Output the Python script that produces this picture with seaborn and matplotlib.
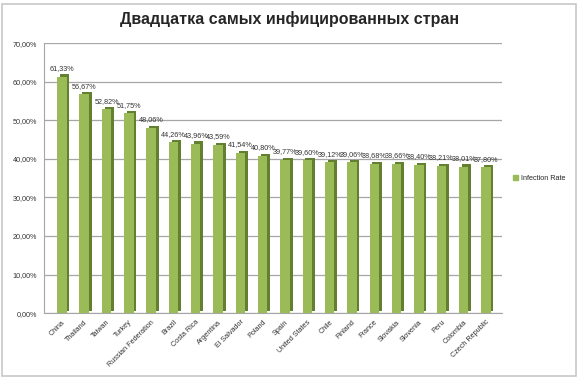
import matplotlib
matplotlib.use("Agg")
import matplotlib.pyplot as plt
import matplotlib.patheffects as pe
from matplotlib.patches import Rectangle, Patch
import seaborn as sns
import pandas as pd

countries = ["China", "Thailand", "Taiwan", "Turkey", "Russian Federation", "Brazil",
             "Costa Rica", "Argentina", "El Salvador", "Poland", "Spain", "United States",
             "Chile", "Finland", "France", "Slovakia", "Slovenia", "Peru", "Colombia",
             "Czech Republic"]
rates = [61.33, 56.67, 52.82, 51.75, 48.06, 44.26, 43.96, 43.59, 41.54, 40.80, 39.77,
         39.60, 39.12, 39.06, 38.68, 38.66, 38.40, 38.21, 38.01, 37.80]
yticks = [0, 10, 20, 30, 40, 50, 60, 70]
series_name = "Infection Rate"
title = "Двадцатка самых инфицированных стран"

df = pd.DataFrame({"Country": countries, "Rate": rates})

sns.set_style("white")
plt.rcParams['font.family'] = ['Liberation Sans', 'DejaVu Sans']

fig = plt.figure(figsize=(5.79, 3.81), dpi=100)
ax = fig.add_axes([0.076, 0.178, 0.791, 0.709])

green = "#9BBB59"
dark = "#62802F"

sns.barplot(data=df, x="Country", y="Rate", color=green, width=0.42, ax=ax,
            saturation=1, zorder=3, linewidth=0, edgecolor="none")
# dark side/top offset to fake the 3d look of the original
for p in ax.patches:
    p.set_path_effects([pe.SimplePatchShadow(offset=(2.0, 1.5), shadow_rgbFace=dark,
                                             alpha=1.0), pe.Normal()])

ax.set_ylim(0, 70)
ax.set_xlim(-0.8, len(countries) - 0.28)
ax.set_yticks(yticks)
ax.set_yticklabels([f"{v:.2f}%".replace(".", ",") for v in yticks], fontsize=5.2,
                   color="#333333")
ax.set_xticks(range(len(countries)))
ax.set_xticklabels(countries, rotation=45, ha="right", rotation_mode="anchor",
                   fontsize=5.2, color="#333333")
ax.set_xlabel("")
ax.set_ylabel("")
ax.yaxis.grid(True, color="#A6A6A6", linewidth=0.9)
ax.set_axisbelow(True)
for s in ["top", "right"]:
    ax.spines[s].set_visible(False)
ax.spines["left"].set_color("#A6A6A6")
ax.spines["bottom"].set_color("#A6A6A6")
ax.tick_params(axis="y", length=3, color="#A6A6A6", pad=2)
ax.tick_params(axis="x", length=3, color="#A6A6A6", pad=1)

for i, v in enumerate(rates):
    ax.text(i, v + 1.2, f"{v:.2f}%".replace(".", ","), ha="center", va="bottom",
            fontsize=5.2, color="#333333")

fig.text(0.5, 0.95, title, ha="center", va="center", fontsize=11.5, fontweight="bold")

ax.legend(handles=[Patch(color=green, label=series_name)], loc="center left",
          bbox_to_anchor=(1.01, 0.5), frameon=False, fontsize=5.2,
          handlelength=0.7, handleheight=0.7, handletextpad=0.4)

fig.patches.append(Rectangle((0.004, 0.012), 0.99, 0.978, transform=fig.transFigure,
                             fill=False, edgecolor="#C8C8C8", linewidth=1.2))

fig.savefig("out.png", dpi=100)
